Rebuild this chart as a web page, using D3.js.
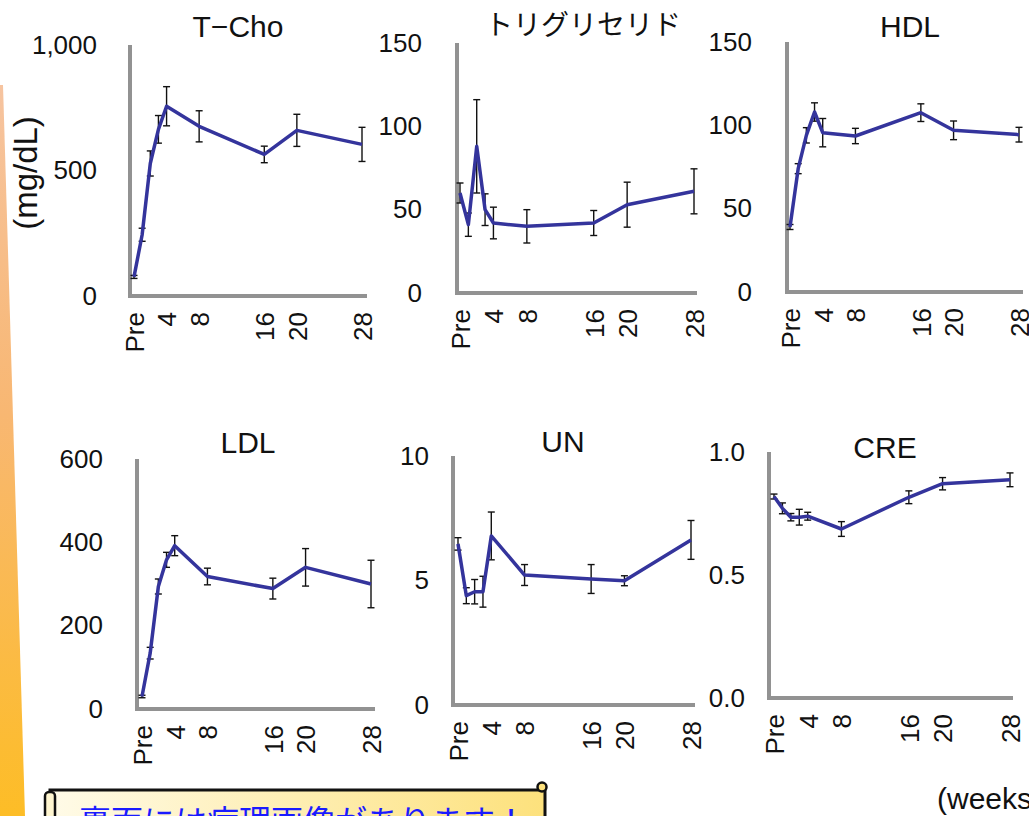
<!DOCTYPE html>
<html lang="ja">
<head>
<meta charset="UTF-8">
<title>血液生化学 推移</title>
<script src="https://d3js.org/d3.v7.min.js"></script>
<style>
  body { margin: 0; background: #fff; }
  svg { display: block; font-family: "Liberation Sans", Arial, sans-serif; }
</style>
</head>
<body>
<div id="chart"></div>
<script>
// sampling weeks (Pre = 0)
const weeks = [0, 1, 2, 3, 4, 8, 16, 20, 28];
const xTickWeeks = [0, 4, 8, 16, 20, 28];
const xTickLabels = ["Pre", "4", "8", "16", "20", "28"];

// mean and error (SD) for each item
const tchoMean = [76, 244, 528, 664, 756, 676, 564, 660, 604];
const tchoErr  = [6, 26, 50, 55, 78, 62, 33, 64, 68];
const tgMean   = [60, 41, 88, 50, 42, 40, 42, 53, 61];
const tgErr    = [6, 7, 28, 9.5, 9.5, 10, 7.5, 13.5, 13.5];
const hdlMean  = [39, 74, 94, 108, 95.6, 93.6, 107.6, 97, 94.4];
const hdlErr   = [1.5, 3, 4.6, 5.5, 8.5, 4.6, 5.3, 5.6, 4.4];
const ldlMean  = [30, 134, 294, 358, 392, 318, 289, 340, 300];
const ldlErr   = [3, 14, 18, 18, 24, 20, 25, 45, 57];
const unMean   = [6.47, 4.39, 4.55, 4.55, 6.79, 5.22, 5.06, 4.99, 6.63];
const unErr    = [0.25, 0.32, 0.49, 0.62, 0.96, 0.42, 0.58, 0.2, 0.78];
const creMean  = [0.819, 0.771, 0.735, 0.735, 0.739, 0.687, 0.816, 0.871, 0.887];
const creErr   = [0.01, 0.022, 0.015, 0.032, 0.016, 0.03, 0.026, 0.025, 0.028];

const titles = ["T\u2212Cho", "トリグリセリド", "HDL", "LDL", "UN", "CRE"];
const yMaxes = [1000, 150, 150, 600, 10, 1];
const yTicks = [[0, 500, 1000], [0, 50, 100, 150], [0, 50, 100, 150],
                [0, 200, 400, 600], [0, 5, 10], [0, 0.5, 1]];
const yFormats = [",", "d", "d", "d", "d", ".1f"];

const W = 1029, H = 816;
const svg = d3.select("#chart").append("svg").attr("width", W).attr("height", H);
const defs = svg.append("defs");

// orange strip on the left edge
const sg = defs.append("linearGradient").attr("id", "strip").attr("x1", 0).attr("y1", 0).attr("x2", 0).attr("y2", 1);
sg.append("stop").attr("offset", "0%").attr("stop-color", "#f6c4a0");
sg.append("stop").attr("offset", "45%").attr("stop-color", "#f8b772");
sg.append("stop").attr("offset", "100%").attr("stop-color", "#fdbd26");
svg.append("polygon").attr("points", "0,85 3,85 25,816 0,816").attr("fill", "url(#strip)");

// panel boxes: axis x, line end, first/last point x, top, bottom, label gap
const boxes = [
  { ax: 130, ex: 367, x0: 134, x1: 362, top: 45, bot: 296, gap: 33, tx: 238, ty: 37 },
  { ax: 457, ex: 697, x0: 460, x1: 694, top: 43, bot: 293, gap: 35, tx: 583, ty: 35 },
  { ax: 787, ex: 1023, x0: 790, x1: 1019, top: 42, bot: 292, gap: 35, tx: 910, ty: 37 },
  { ax: 137, ex: 375, x0: 142, x1: 371, top: 459, bot: 709, gap: 34, tx: 248, ty: 453 },
  { ax: 453, ex: 695, x0: 458, x1: 691, top: 456, bot: 705, gap: 24, tx: 563, ty: 452 },
  { ax: 769, ex: 1013, x0: 774, x1: 1010, top: 452, bot: 698, gap: 24, tx: 885, ty: 458 }
];
const means = [tchoMean, tgMean, hdlMean, ldlMean, unMean, creMean];
const errs = [tchoErr, tgErr, hdlErr, ldlErr, unErr, creErr];

boxes.forEach((b, i) => {
  const x = d3.scaleLinear().domain([0, 28]).range([b.x0, b.x1]);
  const y = d3.scaleLinear().domain([0, yMaxes[i]]).range([b.bot, b.top]);
  const g = svg.append("g");

  // y axis labels
  const ya = g.append("g").attr("transform", `translate(${b.ax},0)`)
    .call(d3.axisLeft(y).tickValues(yTicks[i]).tickFormat(d3.format(yFormats[i])).tickSize(0).tickPadding(b.gap));
  ya.select(".domain").remove();
  ya.selectAll("text").attr("font-size", 26).attr("fill", "#111").attr("font-family", "Liberation Sans, Arial, sans-serif");

  // x axis labels, rotated
  const xa = g.append("g").attr("transform", `translate(0,${b.bot})`)
    .call(d3.axisBottom(x).tickValues(xTickWeeks).tickFormat((d, k) => xTickLabels[k]).tickSize(0));
  xa.select(".domain").remove();
  xa.selectAll("text")
    .attr("transform", "rotate(-90)")
    .attr("text-anchor", "end")
    .attr("x", -16).attr("y", 0).attr("dy", "0.36em")
    .attr("font-size", 26).attr("fill", "#111").attr("font-family", "Liberation Sans, Arial, sans-serif");

  // thick gray axis lines
  g.append("line").attr("x1", b.ax).attr("x2", b.ax).attr("y1", b.top).attr("y2", b.bot + 2)
    .attr("stroke", "#929292").attr("stroke-width", 4);
  g.append("line").attr("x1", b.ax - 2).attr("x2", b.ex).attr("y1", b.bot).attr("y2", b.bot)
    .attr("stroke", "#929292").attr("stroke-width", 4);

  const pts = weeks.map((w, k) => ({ w, m: means[i][k], e: errs[i][k] }));

  // error bars
  const eb = g.append("g").attr("stroke", "#111").attr("stroke-width", 1.4);
  pts.forEach(p => {
    const cx = x(p.w), yt = y(p.m + p.e), yb = y(p.m - p.e);
    eb.append("line").attr("x1", cx).attr("x2", cx).attr("y1", yt).attr("y2", yb);
    eb.append("line").attr("x1", cx - 3.5).attr("x2", cx + 3.5).attr("y1", yt).attr("y2", yt);
    eb.append("line").attr("x1", cx - 3.5).attr("x2", cx + 3.5).attr("y1", yb).attr("y2", yb);
  });

  // mean line
  g.append("path").datum(pts)
    .attr("fill", "none").attr("stroke", "#34349c").attr("stroke-width", 3.5)
    .attr("stroke-linejoin", "round")
    .attr("d", d3.line().x(p => x(p.w)).y(p => y(p.m)));

  // title
  g.append("text").attr("x", b.tx).attr("y", b.ty).attr("text-anchor", "middle")
    .attr("font-size", i === 1 ? 28 : 30).attr("fill", "#111")
    .attr("font-family", i === 1 ? "Noto Sans CJK JP, sans-serif" : "Liberation Sans, Arial, sans-serif")
    .text(titles[i]);
});

// unit label
svg.append("text").attr("transform", "translate(37,173) rotate(-90)")
  .attr("text-anchor", "middle").attr("font-size", 33).attr("fill", "#111")
  .text("(mg/dL)");

// weeks label
svg.append("text").attr("x", 937).attr("y", 809).attr("font-size", 30).attr("fill", "#111")
  .text("(weeks)");

// scroll banner at the bottom
const bg = defs.append("linearGradient").attr("id", "banner").attr("x1", 0).attr("y1", 0).attr("x2", 1).attr("y2", 0);
bg.append("stop").attr("offset", "0%").attr("stop-color", "#fffbe8");
bg.append("stop").attr("offset", "100%").attr("stop-color", "#fde17c");
svg.append("rect").attr("x", 50).attr("y", 790).attr("width", 495).attr("height", 40)
  .attr("fill", "url(#banner)").attr("stroke", "#111").attr("stroke-width", 3);
svg.append("rect").attr("x", 45).attr("y", 792).attr("width", 10).attr("height", 40).attr("rx", 4)
  .attr("fill", "#fff6d0").attr("stroke", "#111").attr("stroke-width", 2.5);
svg.append("circle").attr("cx", 542).attr("cy", 787).attr("r", 4.5)
  .attr("fill", "#fde17c").attr("stroke", "#111").attr("stroke-width", 2.5);
svg.append("text").attr("x", 79).attr("y", 833).attr("font-size", 32).attr("fill", "#1a1aff")
  .attr("font-family", "Noto Sans CJK JP, sans-serif")
  .text("裏面には病理画像があります！");
</script>
</body>
</html>
